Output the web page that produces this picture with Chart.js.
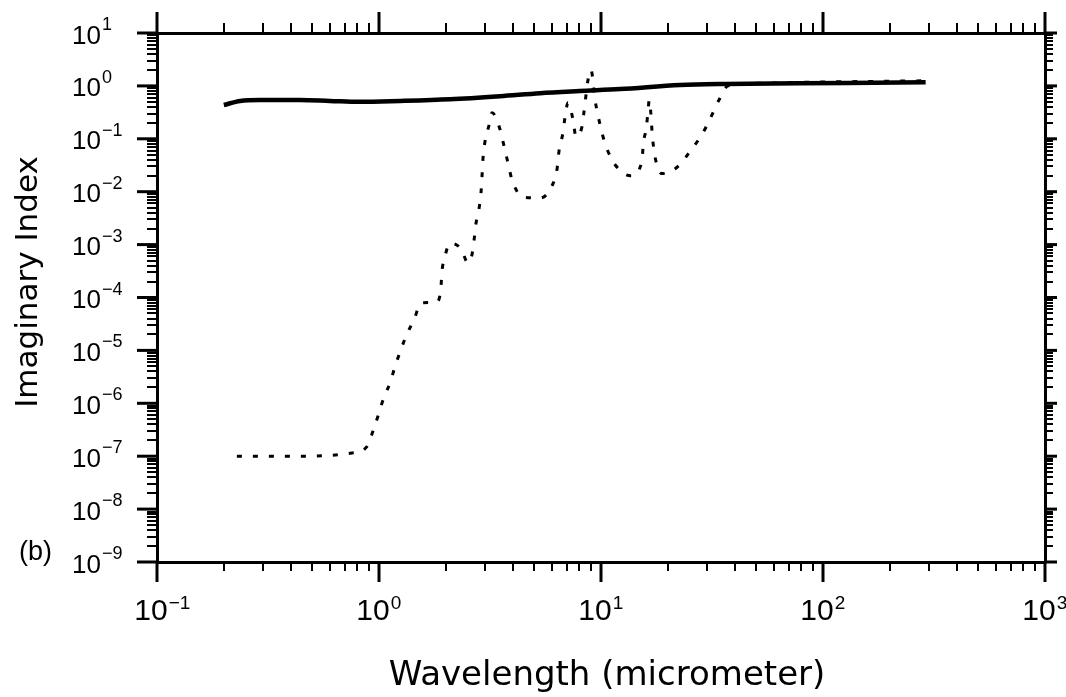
<!DOCTYPE html>
<html>
<head>
<meta charset="utf-8">
<script src="https://cdn.jsdelivr.net/npm/chart.js@4.4.0/dist/chart.umd.min.js"></script>
<style>
  html, body { margin: 0; padding: 0; background: #fff; }
</style>
</head>
<body>
<canvas id="chart" width="1066" height="697"></canvas>
<script>
// solid curve
const solidWavelength = [0.2, 0.237, 0.29, 0.44, 0.6, 0.82, 1.24, 2.09, 3.51, 5.31, 8.0, 12.2, 22.7, 34.4, 78.7, 290];
const solidImag = [0.435, 0.52, 0.54, 0.54, 0.52, 0.5, 0.52, 0.56, 0.64, 0.73, 0.8, 0.87, 1.04, 1.09, 1.12, 1.17];

// dotted curve
const dottedWavelength = [0.229, 0.44, 0.755, 0.88, 0.94, 1.0, 1.05, 1.12, 1.18, 1.32, 1.44, 1.55, 1.82, 1.90, 1.92, 1.98,
  2.09, 2.34, 2.52, 2.62, 2.68, 2.73, 2.82, 2.88, 2.91, 2.94, 3.00, 3.13, 3.23, 3.51, 3.66, 3.81, 3.97, 4.45, 5.31,
  6.02, 6.34, 6.47, 6.74, 6.88, 7.10, 7.48, 7.71, 8.21, 8.38, 8.74, 9.02, 9.40, 9.69, 10.1, 10.6, 11.6, 13.6, 15.3,
  15.5, 16.0, 16.3, 16.5, 17.1, 17.5, 18.8, 22.0, 25.7, 28.8, 31.3, 34.0, 37.3, 52, 80, 130, 290];
const dottedImag = [1e-7, 1e-7, 1.15e-7, 1.5e-7, 3.0e-7, 6.6e-7, 1.26e-6, 2.4e-6, 4.9e-6, 1.8e-5, 3.9e-5, 7.9e-5, 8.2e-5,
  1.5e-4, 3.0e-4, 5.9e-4, 1.07e-3, 8.3e-4, 4.5e-4, 6.3e-4, 1.2e-3, 2.4e-3, 4.7e-3, 9.5e-3, 1.9e-2, 4.2e-2, 8.7e-2,
  0.18, 0.31, 0.15, 0.072, 0.035, 0.017, 7.9e-3, 7.6e-3, 0.013, 0.027, 0.059, 0.13, 0.25, 0.48, 0.23, 0.11, 0.17,
  0.32, 1.3, 2.0, 0.54, 0.28, 0.13, 0.067, 0.032, 0.020, 0.038, 0.079, 0.16, 0.35, 0.54, 0.096, 0.046, 0.022, 0.029,
  0.065, 0.13, 0.26, 0.54, 1.0, 1.12, 1.17, 1.2, 1.25];

// axes
const xTickExps = [-1, 0, 1, 2, 3];
const yTickExps = [1, 0, -1, -2, -3, -4, -5, -6, -7, -8, -9];
const xTitle = "Wavelength (micrometer)";
const yTitle = "Imaginary Index";
const panelLabel = "(b)";

function toPoints(xs, ys) {
  return xs.map((x, i) => ({ x: x, y: ys[i] }));
}

// ticks at 1..9 x 10^n, majors at the decades
function decadeTicks(exps) {
  const lo = Math.min(...exps), hi = Math.max(...exps);
  const t = [];
  for (let e = lo; e < hi; e++) {
    for (let m = 1; m < 10; m++) t.push({ value: m * Math.pow(10, e), major: m === 1 });
  }
  t.push({ value: Math.pow(10, hi), major: true });
  return t;
}

function logAxis(position, exps, size, tickLen) {
  const horiz = position === 'top' || position === 'bottom';
  return {
    type: 'logarithmic',
    position: position,
    min: Math.pow(10, Math.min(...exps)),
    max: Math.pow(10, Math.max(...exps)),
    ticks: { display: false },
    grid: { drawOnChartArea: false, tickLength: tickLen, color: '#000', lineWidth: 2 },
    border: { display: true, color: '#000', width: 3 },
    afterBuildTicks: s => { s.ticks = decadeTicks(exps); },
    afterFit: s => { if (horiz) s.height = size; else s.width = size; }
  };
}

const sup = e => String(e).replace('-', '\u2212');

// long decade ticks, tick labels and titles
const axisDecor = {
  id: 'axisDecor',
  afterDraw(chart) {
    const { ctx, chartArea: a, scales } = chart;
    ctx.save();
    ctx.strokeStyle = '#000';
    ctx.fillStyle = '#000';
    ctx.lineWidth = 3;
    const seg = (x1, y1, x2, y2) => { ctx.beginPath(); ctx.moveTo(x1, y1); ctx.lineTo(x2, y2); ctx.stroke(); };

    xTickExps.forEach(e => {
      const px = scales.x.getPixelForValue(Math.pow(10, e));
      seg(px, a.bottom, px, a.bottom + 20);
      seg(px, a.top, px, a.top - 21);
    });
    yTickExps.forEach(e => {
      const py = scales.y.getPixelForValue(Math.pow(10, e));
      seg(a.left - 20, py, a.left, py);
      seg(a.right, py, a.right + 12, py);
    });

    // y labels
    ctx.textBaseline = 'alphabetic';
    ctx.textAlign = 'left';
    yTickExps.forEach(e => {
      const py = scales.y.getPixelForValue(Math.pow(10, e));
      ctx.font = '26px "Liberation Sans"';
      ctx.fillText('10', 72, py + 10.5);
      const w = ctx.measureText('10').width;
      ctx.font = '18px "Liberation Sans"';
      ctx.fillText(sup(e), 72 + w + 1, py - 3);
    });

    // x labels
    xTickExps.forEach(e => {
      const px = scales.x.getPixelForValue(Math.pow(10, e));
      ctx.font = '30px "Liberation Sans"';
      const w = ctx.measureText('10').width;
      const x0 = px - w * 0.68;
      ctx.fillText('10', x0, 620);
      ctx.font = '19px "Liberation Sans"';
      ctx.fillText(sup(e), x0 + w + 1, 609);
    });

    ctx.font = '27px "Liberation Sans"';
    ctx.fillText(panelLabel, 19, 560);

    // axis titles
    ctx.font = '34px "DejaVu Sans"';
    ctx.textAlign = 'center';
    ctx.fillText(xTitle, 607, 685);

    ctx.translate(37, 282);
    ctx.rotate(-Math.PI / 2);
    ctx.font = '31px "DejaVu Sans"';
    ctx.fillText(yTitle, 0, 0);
    ctx.restore();
  }
};

new Chart(document.getElementById('chart'), {
  type: 'line',
  data: {
    datasets: [
      {
        label: 'solid',
        data: toPoints(solidWavelength, solidImag),
        borderColor: '#000',
        borderWidth: 4.5,
        pointRadius: 0,
        cubicInterpolationMode: 'monotone',
        fill: false
      },
      {
        label: 'dotted',
        data: toPoints(dottedWavelength, dottedImag),
        borderColor: '#000',
        borderWidth: 3,
        borderDash: [5, 11],
        pointRadius: 0,
        cubicInterpolationMode: 'monotone',
        fill: false
      }
    ]
  },
  options: {
    responsive: false,
    animation: false,
    layout: { padding: 0 },
    plugins: { legend: { display: false }, tooltip: { enabled: false } },
    scales: {
      x: logAxis('bottom', xTickExps, 135, 9),
      x2: logAxis('top', xTickExps, 33, 10),
      y: logAxis('left', yTickExps, 157, 10),
      y2: logAxis('right', yTickExps, 21, 8)
    }
  },
  plugins: [axisDecor]
});
</script>
</body>
</html>
